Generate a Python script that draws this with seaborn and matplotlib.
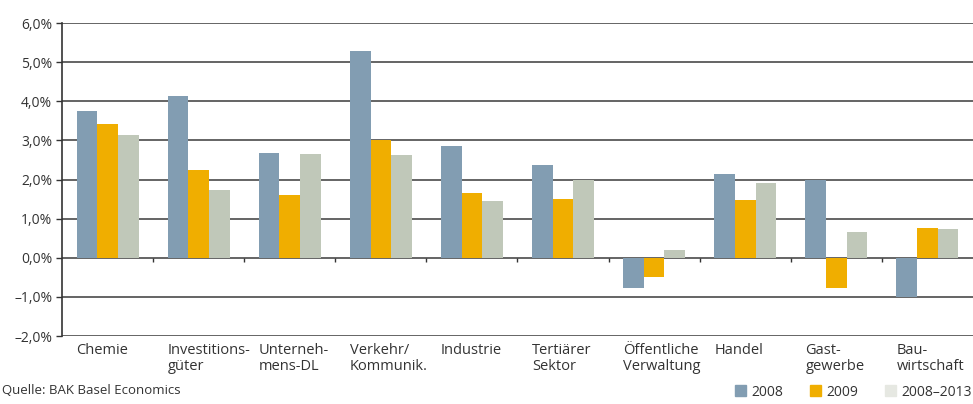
import numpy as np
import pandas as pd
import matplotlib
matplotlib.use("Agg")
import matplotlib.pyplot as plt
from matplotlib.patches import Patch
import seaborn as sns

categories = ["Chemie", "Investitions-\ngüter", "Unterneh-\nmens-DL", "Verkehr/\nKommunik.",
              "Industrie", "Tertiärer\nSektor", "Öffentliche\nVerwaltung", "Handel",
              "Gast-\ngewerbe", "Bau-\nwirtschaft"]
series = ["2008", "2009", "2008–2013"]
v2008 = [3.76, 4.14, 2.69, 5.29, 2.86, 2.38, -0.76, 2.15, 2.00, -1.00]
v2009 = [3.43, 2.25, 1.61, 3.02, 1.66, 1.51, -0.50, 1.48, -0.76, 0.77]
v0813 = [3.15, 1.74, 2.66, 2.63, 1.46, 1.99, 0.20, 1.92, 0.66, 0.74]
yticks = [-2, -1, 0, 1, 2, 3, 4, 5, 6]

colors = ["#829db2", "#f0ae00", "#c0c8b9"]
legend_colors = ["#829db2", "#f0ae00", "#e6e8e2"]

df = pd.DataFrame({
    "cat": categories * 3,
    "serie": [s for s in series for _ in categories],
    "val": v2008 + v2009 + v0813,
})

sns.set_style("white")
plt.rcParams["font.family"] = ["Open Sans", "DejaVu Sans"]
txt = "#333333"

fig = plt.figure(figsize=(9.73, 4.04), dpi=100)
ax = fig.add_axes([0.0637, 0.168, 0.9363, 0.775])

sns.barplot(data=df, x="cat", y="val", hue="serie", palette=colors,
            width=0.68, saturation=1, linewidth=0, ax=ax, legend=False, zorder=3)

ax.set_xlim(-0.5, len(categories) - 0.5)
ax.set_ylim(-2, 6)
ax.set_yticks(yticks)
ax.set_yticklabels([f"{t:.1f}%".replace(".", ",").replace("-", "–") for t in yticks],
                   color=txt, fontsize=10)
for t in yticks:
    ax.axhline(t, color="#4a4a4a", lw=1.2, zorder=1)
# small ticks on the zero line between groups
ax.vlines(np.arange(0.5, len(categories) - 0.5, 1), 0, -0.1, color="#333333", lw=1, zorder=4)

ax.set_xticks(np.arange(len(categories)) - 0.34)
ax.set_xticklabels(categories, ha="left", color=txt, fontsize=10.5, linespacing=1.05)
ax.tick_params(axis="x", length=0, pad=5)
ax.tick_params(axis="y", length=4, width=1, color="#333333", pad=3, direction="out", left=True)
ax.set_xlabel("")
ax.set_ylabel("")
for s in ["top", "right", "bottom"]:
    ax.spines[s].set_visible(False)
ax.spines["left"].set_color("#333333")
ax.spines["left"].set_linewidth(1.2)

fig.text(0.002, 0.018, "Quelle: BAK Basel Economics", color=txt, fontsize=9.5, va="bottom")
handles = [Patch(color=c, label=s) for c, s in zip(legend_colors, series)]
fig.legend(handles=handles, loc="lower right", bbox_to_anchor=(1.012, -0.02), ncol=3,
           frameon=False, fontsize=10, handlelength=0.8, handleheight=0.8,
           columnspacing=1.9, handletextpad=0.4, labelcolor=txt)

fig.savefig("out.png", dpi=100)
